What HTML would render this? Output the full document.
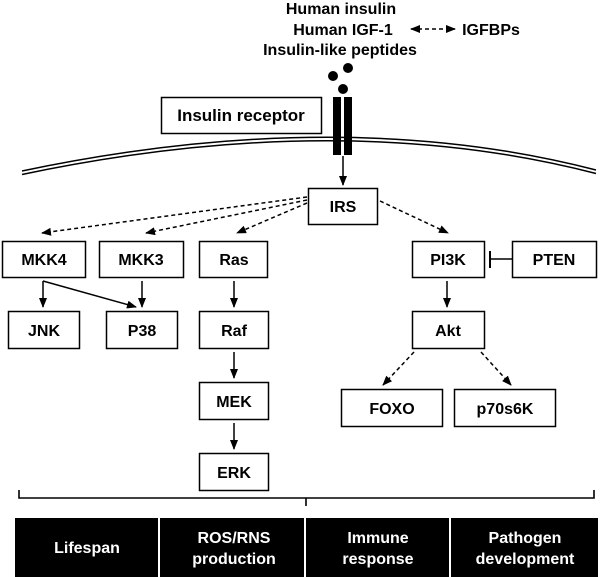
<!DOCTYPE html>
<html><head><meta charset="utf-8"><style>
html,body{margin:0;padding:0;background:#fff;}
svg{display:block;}
text{font-family:"Liberation Sans",Arial,sans-serif;font-weight:bold;}
</style></head><body>
<svg width="600" height="577" viewBox="0 0 600 577" xmlns="http://www.w3.org/2000/svg">
<defs>
<marker id="a" markerWidth="10" markerHeight="8" refX="9" refY="4" orient="auto" markerUnits="userSpaceOnUse"><path d="M0,0 L10,4 L0,8 z" fill="#000"/></marker>
<marker id="b" markerWidth="10" markerHeight="8" refX="1" refY="4" orient="auto" markerUnits="userSpaceOnUse"><path d="M10,0 L0,4 L10,8 z" fill="#000"/></marker>
</defs>
<g text-anchor="middle" font-size="16">
<text x="341" y="14">Human insulin</text>
<text x="343" y="35">Human IGF-1</text>
<text x="340" y="55">Insulin-like peptides</text>
<text x="491" y="35">IGFBPs</text>
</g>
<line x1="411" y1="29" x2="455" y2="29" stroke="#000" stroke-width="1.6" stroke-dasharray="4,3" marker-start="url(#b)" marker-end="url(#a)"/>
<circle cx="333" cy="76" r="5"/><circle cx="348" cy="68" r="5"/><circle cx="343" cy="89" r="5"/>
<path d="M22,171 Q341,104 596,170" fill="none" stroke="#000" stroke-width="1.5"/>
<path d="M22,174.5 Q341,107.5 596,173.5" fill="none" stroke="#000" stroke-width="1.5"/>
<rect x="161.5" y="97.5" width="160" height="36" fill="#fff" stroke="#000" stroke-width="1.5"/>
<text x="241" y="121" text-anchor="middle" font-size="17">Insulin receptor</text>
<rect x="333" y="97" width="8" height="58"/><rect x="344" y="97" width="8" height="58"/>
<line x1="343" y1="156" x2="343" y2="185" stroke="#000" stroke-width="1.5" marker-end="url(#a)"/>
<g fill="#fff" stroke="#000" stroke-width="1.5">
<rect x="308.5" y="188.5" width="69" height="36"/>
<rect x="2.5" y="241.5" width="83" height="36"/>
<rect x="99.5" y="241.5" width="84" height="36"/>
<rect x="199.5" y="241.5" width="68" height="36"/>
<rect x="412.5" y="241.5" width="72" height="36"/>
<rect x="512.5" y="241.5" width="84" height="36"/>
<rect x="8.5" y="311.5" width="71" height="37"/>
<rect x="106.5" y="311.5" width="71" height="37"/>
<rect x="199.5" y="311.5" width="69" height="37"/>
<rect x="412.5" y="311.5" width="72" height="37"/>
<rect x="199.5" y="382.5" width="69" height="37"/>
<rect x="341.5" y="389.5" width="101" height="37"/>
<rect x="454.5" y="389.5" width="101" height="37"/>
<rect x="199.5" y="453.5" width="69" height="37"/>
</g>
<g text-anchor="middle" font-size="16">
<text x="343" y="212">IRS</text>
<text x="44" y="265">MKK4</text>
<text x="141" y="265">MKK3</text>
<text x="234" y="265">Ras</text>
<text x="448" y="265">PI3K</text>
<text x="554" y="265">PTEN</text>
<text x="44" y="336">JNK</text>
<text x="142" y="336">P38</text>
<text x="234" y="336">Raf</text>
<text x="448" y="336">Akt</text>
<text x="234" y="407">MEK</text>
<text x="392" y="414">FOXO</text>
<text x="505" y="414">p70s6K</text>
<text x="234" y="478">ERK</text>
</g>
<g stroke="#000" stroke-width="1.5" fill="none" stroke-dasharray="4,3">
<line x1="307" y1="197" x2="42" y2="233" marker-end="url(#a)"/>
<line x1="307" y1="200" x2="146" y2="233" marker-end="url(#a)"/>
<line x1="307" y1="203" x2="237" y2="233" marker-end="url(#a)"/>
<line x1="380" y1="201" x2="448" y2="233" marker-end="url(#a)"/>
<line x1="414" y1="352" x2="383" y2="385" marker-end="url(#a)"/>
<line x1="481" y1="352" x2="511" y2="385" marker-end="url(#a)"/>
</g>
<g stroke="#000" stroke-width="1.5" fill="none">
<polyline points="43,281 136,307" marker-end="url(#a)"/>
<line x1="43" y1="281" x2="43" y2="307" marker-end="url(#a)"/>
<line x1="142" y1="281" x2="142" y2="307" marker-end="url(#a)"/>
<line x1="234" y1="281" x2="234" y2="307" marker-end="url(#a)"/>
<line x1="447" y1="281" x2="447" y2="307" marker-end="url(#a)"/>
<line x1="234" y1="352" x2="234" y2="378" marker-end="url(#a)"/>
<line x1="234" y1="423" x2="234" y2="449" marker-end="url(#a)"/>
<line x1="512" y1="259" x2="490" y2="259"/>
<line x1="490" y1="251" x2="490" y2="268" stroke-width="2"/>
<path d="M19,490 L19,498 L306,498 L306,506 M306,498 L594,498 L594,490" stroke-width="1.6"/>
</g>
<rect x="15" y="518" width="583" height="59" fill="#000"/>
<g stroke="#fff" stroke-width="2"><line x1="159" y1="518" x2="159" y2="577"/><line x1="305" y1="518" x2="305" y2="577"/><line x1="450" y1="518" x2="450" y2="577"/></g>
<g fill="#fff" text-anchor="middle" font-size="16">
<text x="87" y="553">Lifespan</text>
<text x="234" y="543">ROS/RNS</text>
<text x="234" y="564">production</text>
<text x="378" y="543">Immune</text>
<text x="378" y="564">response</text>
<text x="525" y="543">Pathogen</text>
<text x="525" y="564">development</text>
</g>
</svg>
</body></html>
